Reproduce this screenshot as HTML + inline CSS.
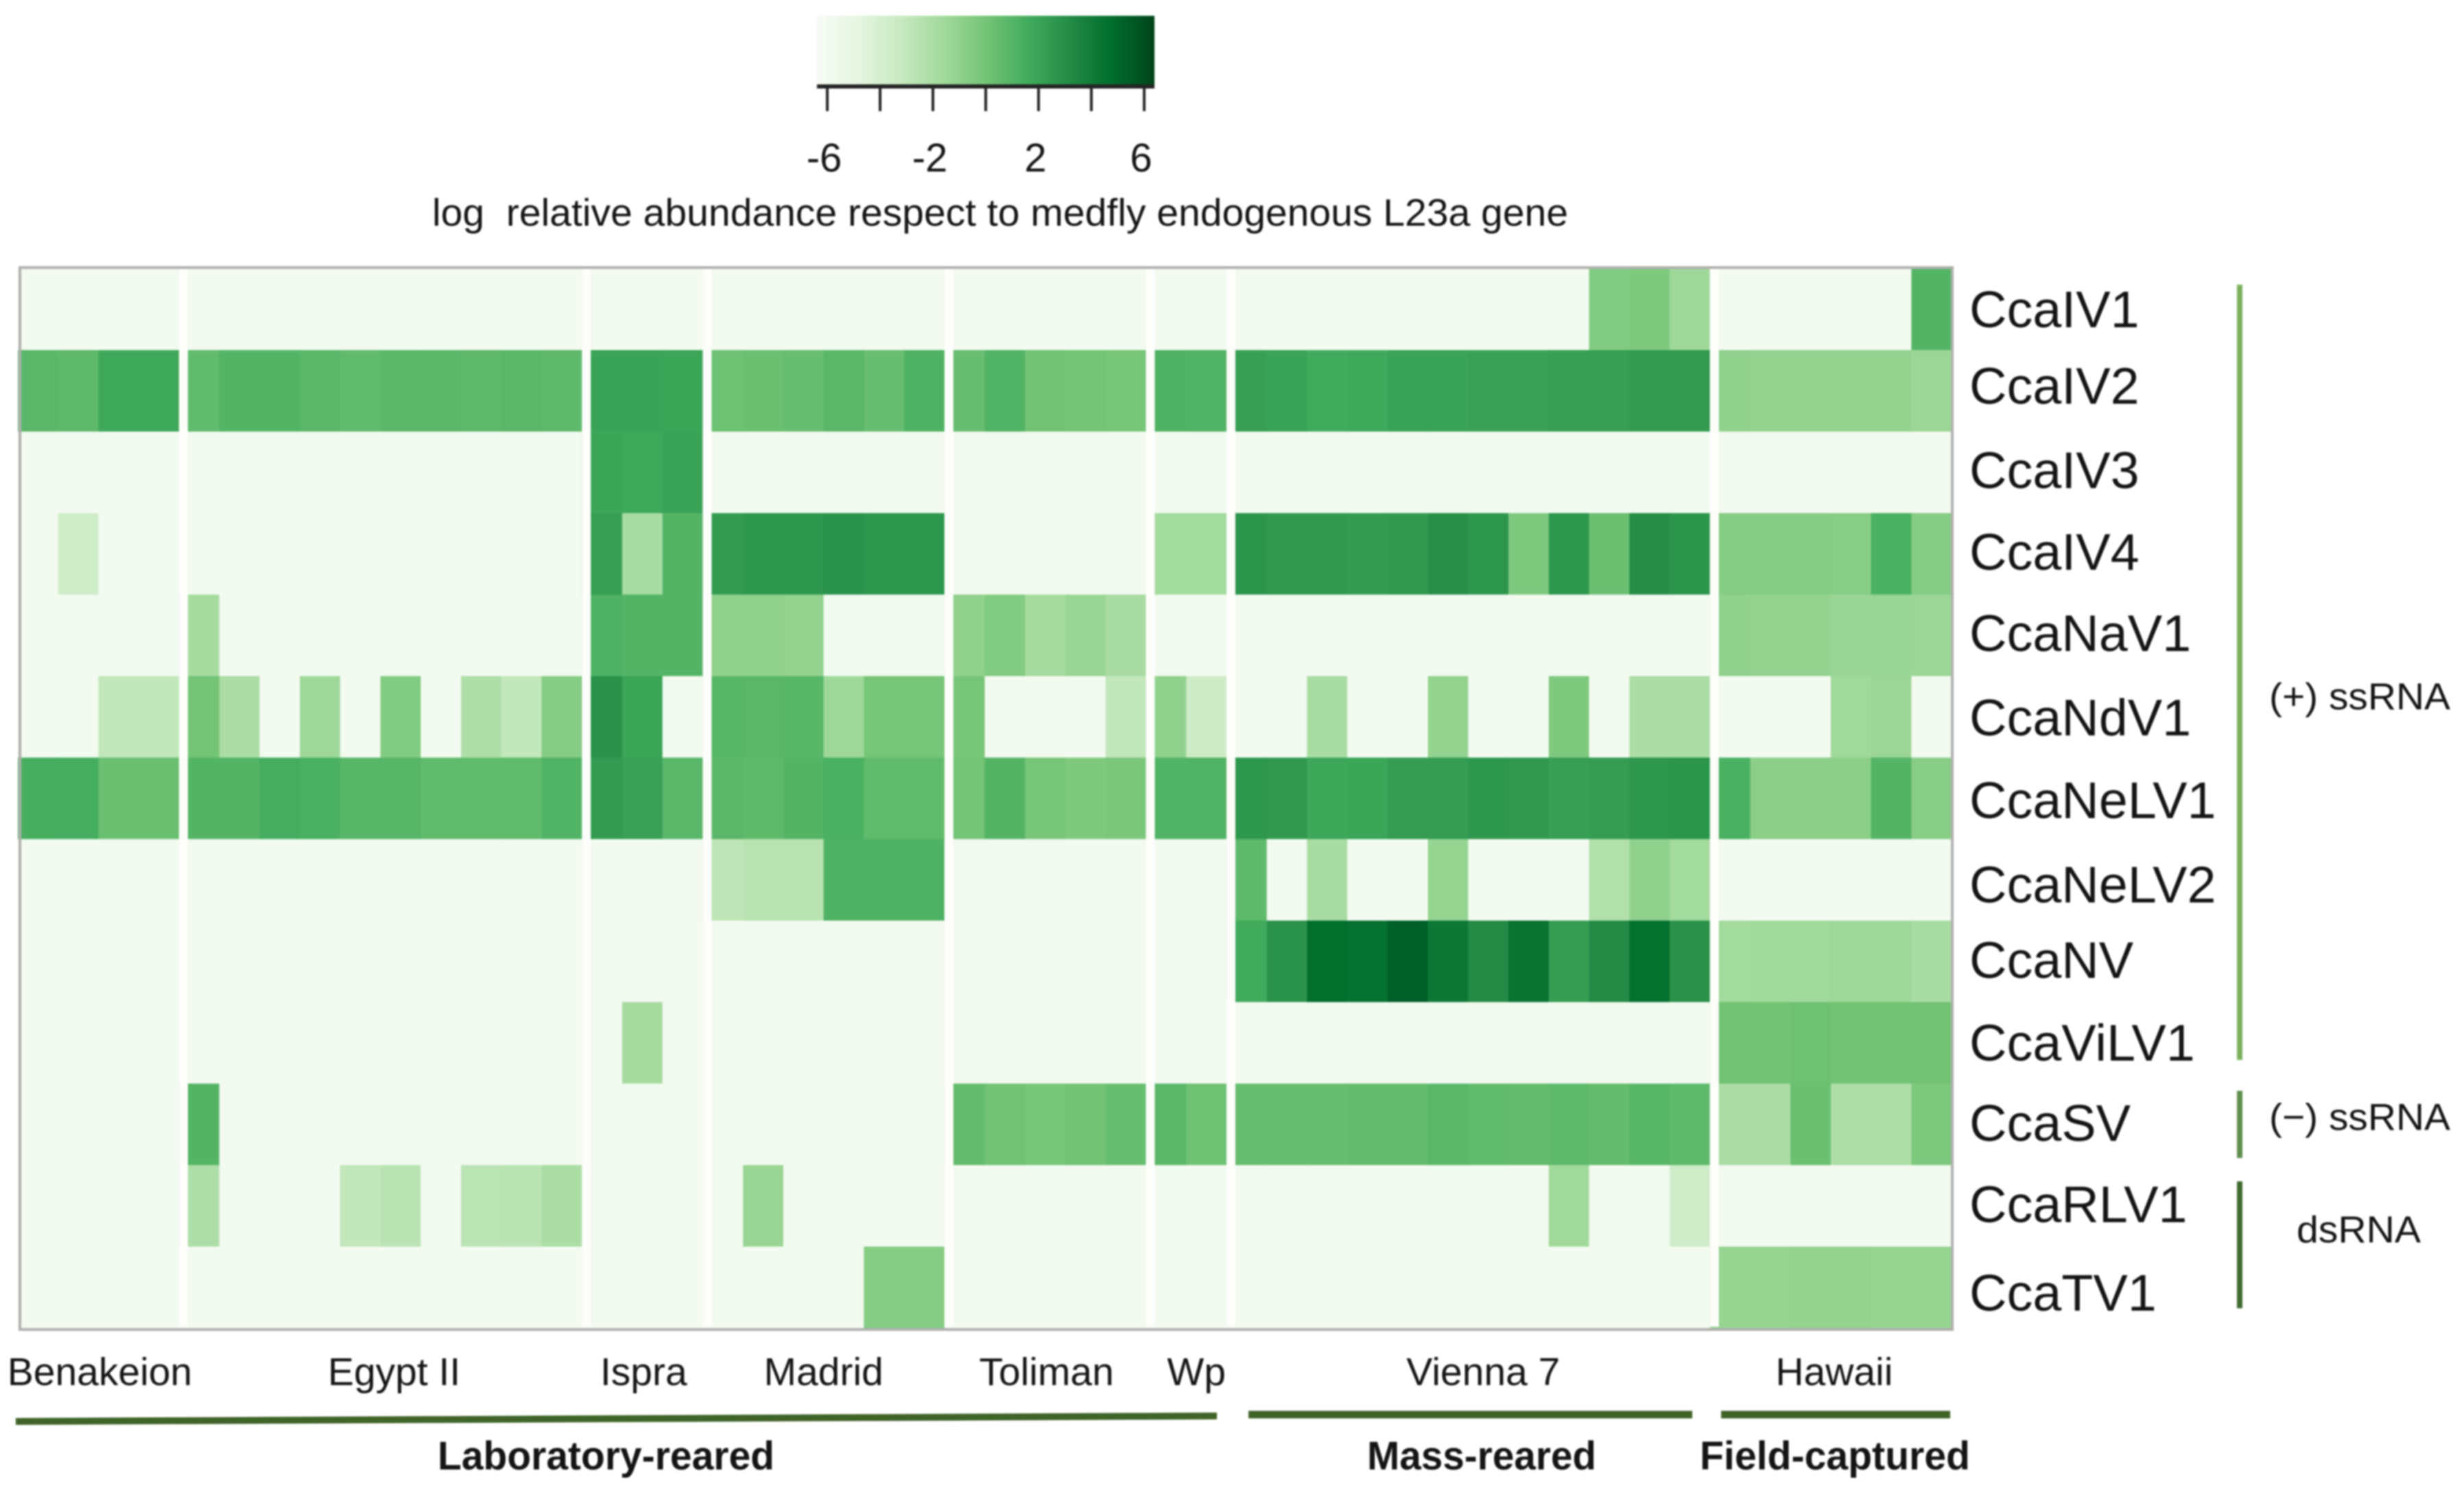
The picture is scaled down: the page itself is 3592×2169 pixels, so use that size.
<!DOCTYPE html>
<html lang="en">
<head>
<meta charset="utf-8">
<title>Virus relative abundance heatmap</title>
<style>
  html, body { margin: 0; padding: 0; background: #ffffff; width: 3592px; height: 2169px; overflow: hidden; }
  svg { display: block; font-family: "Liberation Sans", Arial, sans-serif; }
  text { fill: #141414; }
</style>
</head>
<body>
<svg id="chart" xmlns="http://www.w3.org/2000/svg" width="3592" height="2169" viewBox="0 0 3592 2169">
  <defs>
    <linearGradient id="legend-gradient" x1="0" x2="1" y1="0" y2="0"></linearGradient>
  </defs>
  <rect x="0" y="0" width="3592" height="2169" fill="#ffffff"/>
  <g id="root" style="filter: blur(1.3px)">
    <g id="legend">
      <rect x="1191" y="23" width="492" height="103" fill="url(#legend-gradient)"/>
      <rect x="1191" y="123" width="492" height="6" fill="#242424"/>
      <g id="legend-ticks"></g>
      <text x="630" y="329" font-size="56" textLength="1656" lengthAdjust="spacingAndGlyphs" xml:space="preserve">log  relative abundance respect to medfly endogenous L23a gene</text>
    </g>
    <g id="cells"></g>
    <g id="gaps"></g>
    <rect x="29" y="390" width="2817" height="1548" fill="none" stroke="#b0b0ae" stroke-width="4"/>
    <g id="row-labels"></g>
    <g id="group-labels"></g>

    <rect x="3261" y="415" width="8" height="1130" fill="#7bb05c"/>
    <rect x="3261" y="1590" width="8" height="98" fill="#5f8f4e"/>
    <rect x="3261" y="1722" width="8" height="185" fill="#3f6a30"/>
    <text x="3308" y="1034" font-size="55" textLength="264" lengthAdjust="spacingAndGlyphs">(+) ssRNA</text>
    <text x="3308" y="1647" font-size="55" textLength="264" lengthAdjust="spacingAndGlyphs">(−) ssRNA</text>
    <text x="3348" y="1811" font-size="55" textLength="181" lengthAdjust="spacingAndGlyphs">dsRNA</text>

    <line x1="23" y1="2072" x2="1774" y2="2064" stroke="#3f6428" stroke-width="10"/>
    <line x1="1820" y1="2062" x2="2467" y2="2062" stroke="#3f6428" stroke-width="11"/>
    <line x1="2509" y1="2062" x2="2843" y2="2062" stroke="#3f6428" stroke-width="11"/>
    <text x="638" y="2142" font-size="58" font-weight="700" textLength="491" lengthAdjust="spacingAndGlyphs">Laboratory-reared</text>
    <text x="1993" y="2142" font-size="58" font-weight="700" textLength="334" lengthAdjust="spacingAndGlyphs">Mass-reared</text>
    <text x="2478" y="2142" font-size="58" font-weight="700" textLength="394" lengthAdjust="spacingAndGlyphs">Field-captured</text>
  </g>
</svg>
<script>
// ---- data: categories ----
const virusNames = ["CcaIV1","CcaIV2","CcaIV3","CcaIV4","CcaNaV1","CcaNdV1","CcaNeLV1","CcaNeLV2","CcaNV","CcaViLV1","CcaSV","CcaRLV1","CcaTV1"];
const strainNames = ["Benakeion","Egypt II","Ispra","Madrid","Toliman","Wp","Vienna 7","Hawaii"];
const strainSampleCounts = [4,10,3,6,5,2,12,6];
const legendTickValues = [-6,-4,-2,0,2,4,6];
const legendTickLabels = ["-6","","-2","","2","","6"];

// ---- data: log relative abundance, grouped by strain within each row ----
const valuesCcaIV1 = [-6,-6,-6,-6, -6,-6,-6,-6,-6,-6,-6,-6,-6,-6, -6,-6,-6, -6,-6,-6,-6,-6,-6, -6,-6,-6,-6,-6, -6,-6, -6,-6,-6,-6,-6,-6,-6,-6,-6,-0.5,-0.4,-1.5, -6,-6,-6,-6,-6,1.0];
const valuesCcaIV2 = [0.8,0.7,1.7,1.7, 0.6,1.0,1.0,0.8,0.6,0.8,0.8,0.7,0.8,0.7, 2.0,2.0,1.9, 0.2,0.3,0.4,0.8,0.4,1.2, 0.4,1.1,0.1,0.0,-0.1, 1.2,1.1, 2.2,2.0,1.6,1.7,2.0,2.0,2.1,2.1,2.2,2.2,2.4,2.4, -1.0,-1.1,-1.1,-1.1,-1.1,-1.4];
const valuesCcaIV3 = [-6,-6,-6,-6, -6,-6,-6,-6,-6,-6,-6,-6,-6,-6, 1.9,1.7,2.0, -6,-6,-6,-6,-6,-6, -6,-6,-6,-6,-6, -6,-6, -6,-6,-6,-6,-6,-6,-6,-6,-6,-6,-6,-6, -6,-6,-6,-6,-6,-6];
const valuesCcaIV4 = [-6,-3.6,-6,-6, -6,-6,-6,-6,-6,-6,-6,-6,-6,-6, 2.2,-1.9,1.0, 2.4,2.6,2.6,2.8,2.6,2.6, -6,-6,-6,-6,-6, -1.7,-1.7, 2.7,2.5,2.5,2.4,2.5,3.0,2.6,-0.4,2.6,0.3,3.1,2.7, -0.6,-0.6,-0.6,-0.7,1.3,-0.6];
const valuesCcaNaV1 = [-6,-6,-6,-6, -1.8,-6,-6,-6,-6,-6,-6,-6,-6,-6, 1.2,1.0,1.0, -1.0,-1.0,-1.1,-6,-6,-6, -1.0,-0.5,-1.8,-1.3,-1.9, -6,-6, -6,-6,-6,-6,-6,-6,-6,-6,-6,-6,-6,-6, -1.0,-1.1,-1.1,-1.3,-1.3,-1.4];
const valuesCcaNdV1 = [-6,-6,-3.0,-3.0, 0.0,-2.0,-6,-1.5,-6,-0.5,-6,-2.2,-3.0,-0.6, 2.9,1.9,-6, 0.9,0.8,0.9,-1.5,-0.1,-0.1, -0.1,-6,-6,-6,-3.0, -1.0,-3.5, -6,-6,-1.9,-6,-6,-1.1,-6,-6,-0.4,-6,-2.0,-2.0, -6,-6,-6,-1.6,-1.4,-6];
const valuesCcaNeLV1 = [1.4,1.5,0.3,0.3, 1.0,1.0,1.5,1.3,0.9,0.9,0.6,0.6,0.6,1.1, 2.4,2.1,0.8, 0.8,0.7,1.0,1.3,0.6,0.6, 0.0,1.0,-0.1,-0.4,-0.2, 1.1,1.1, 2.6,2.5,1.8,1.9,2.3,2.3,2.6,2.5,2.2,2.3,2.6,2.7, 1.3,-0.8,-0.8,-0.8,1.0,-0.7];
const valuesCcaNeLV2 = [-6,-6,-6,-6, -6,-6,-6,-6,-6,-6,-6,-6,-6,-6, -6,-6,-6, -2.8,-2.6,-2.6,1.2,1.2,1.2, -6,-6,-6,-6,-6, -6,-6, 0.7,-6,-1.9,-6,-6,-1.2,-6,-6,-6,-2.3,-1.0,-1.7, -6,-6,-6,-6,-6,-6];
const valuesCcaNV = [-6,-6,-6,-6, -6,-6,-6,-6,-6,-6,-6,-6,-6,-6, -6,-6,-6, -6,-6,-6,-6,-6,-6, -6,-6,-6,-6,-6, -6,-6, 1.6,2.8,4.7,4.5,5.3,4.2,3.2,4.4,2.3,3.2,4.6,2.9, -1.7,-1.6,-1.6,-1.5,-1.5,-1.9];
const valuesCcaViLV1 = [-6,-6,-6,-6, -6,-6,-6,-6,-6,-6,-6,-6,-6,-6, -6,-1.8,-6, -6,-6,-6,-6,-6,-6, -6,-6,-6,-6,-6, -6,-6, -6,-6,-6,-6,-6,-6,-6,-6,-6,-6,-6,-6, 0.1,0.1,0.2,0.1,0.1,0.1];
const valuesCcaSV = [-6,-6,-6,-6, 1.0,-6,-6,-6,-6,-6,-6,-6,-6,-6, -6,-6,-6, -6,-6,-6,-6,-6,-6, 0.5,0.1,-0.1,0.1,0.4, 0.8,0.2, 0.4,0.4,0.4,0.5,0.5,0.8,0.6,0.5,0.7,0.5,0.9,0.7, -2.0,-2.0,0.3,-2.1,-2.1,-0.3];
const valuesCcaRLV1 = [-6,-6,-6,-6, -2.1,-6,-6,-6,-3.0,-2.6,-6,-2.7,-2.6,-2.0, -6,-6,-6, -6,-1.3,-6,-6,-6,-6, -6,-6,-6,-6,-6, -6,-6, -6,-6,-6,-6,-6,-6,-6,-6,-1.6,-6,-6,-3.6, -6,-6,-6,-6,-6,-6];
const valuesCcaTV1 = [-6,-6,-6,-6, -6,-6,-6,-6,-6,-6,-6,-6,-6,-6, -6,-6,-6, -6,-6,-6,-6,-0.6,-0.6, -6,-6,-6,-6,-6, -6,-6, -6,-6,-6,-6,-6,-6,-6,-6,-6,-6,-6,-6, -1.2,-1.2,-1.1,-1.1,-1.2,-1.2];
const heatmapRows = [valuesCcaIV1,valuesCcaIV2,valuesCcaIV3,valuesCcaIV4,valuesCcaNaV1,valuesCcaNdV1,valuesCcaNeLV1,valuesCcaNeLV2,valuesCcaNV,valuesCcaViLV1,valuesCcaSV,valuesCcaRLV1,valuesCcaTV1];

// ---- scales ----
const SVG_NS = "http://www.w3.org/2000/svg";
const palette = ["#F7FCF5","#E5F5E0","#C7E9C0","#A1D99B","#74C476","#41AB5D","#238B45","#006D2C","#00441B"];
const colorMin = -6.39;
const colorMax = 6.39;
function xCell(i) { return 26 + 58.73 * i; }
function yCell(r) { return 391.5 + 118.8 * r; }
function xLegend(v) { return 1437 + 38.5 * v; }
function hexToRgb(h) { return [1,3,5].map(function (p) { return parseInt(h.substr(p, 2), 16); }); }
function colorFor(v) {
  const t = Math.max(0, Math.min(1, (v - colorMin) / (colorMax - colorMin))) * (palette.length - 1);
  const k = Math.min(palette.length - 2, Math.floor(t));
  const a = hexToRgb(palette[k]);
  const b = hexToRgb(palette[k + 1]);
  const f = t - k;
  return "rgb(" + a.map(function (c, n) { return Math.round(c + (b[n] - c) * f); }).join(",") + ")";
}
function make(tag, attrs, parent, content) {
  const el = document.createElementNS(SVG_NS, tag);
  Object.keys(attrs).forEach(function (k) { el.setAttribute(k, attrs[k]); });
  if (content !== undefined) el.textContent = content;
  parent.appendChild(el);
  return el;
}

// ---- legend ----
const gradient = document.getElementById("legend-gradient");
palette.forEach(function (c, i) {
  make("stop", { offset: i / (palette.length - 1), "stop-color": c }, gradient);
});
const tickLayer = document.getElementById("legend-ticks");
legendTickValues.forEach(function (v, i) {
  const tick = make("line", { x1: xLegend(v), x2: xLegend(v), y1: 126, y2: 162, stroke: "#242424", "stroke-width": 4 }, tickLayer);
  
  
  if (legendTickLabels[i]) {
    const label = make("text", { x: xLegend(v) - 4.5, y: 250, "font-size": 58, "text-anchor": "middle" }, tickLayer, legendTickLabels[i]);
    
    
  }
});

// ---- heatmap cells ----
const cellLayer = document.getElementById("cells");
heatmapRows.forEach(function (row, r) {
  row.forEach(function (value, c) {
    const cell = make("rect", {
      x: xCell(c), y: yCell(r),
      width: xCell(c + 1) - xCell(c) + 0.5,
      height: yCell(r + 1) - yCell(r) + 0.5,
      fill: colorFor(value)
    }, cellLayer);
    
    
  });
});

// ---- strain separators and labels ----
const gapLayer = document.getElementById("gaps");
const groupLabelLayer = document.getElementById("group-labels");
const labelCenterNudge = [2, 20, 2, 0, 2, 15, 22, 5];
let cumulative = 0;
strainSampleCounts.forEach(function (count, g) {
  const start = cumulative;
  const end = cumulative + count;
  if (g > 0) {
    const gap = make("rect", { x: xCell(start), y: 392, width: 13, height: yCell(virusNames.length) - 394, fill: "#fdfdfb" }, gapLayer);
    
    
  }
  const center = (xCell(start) + xCell(end)) / 2 + labelCenterNudge[g];
  const label = make("text", { x: center, y: 2019, "font-size": 57, "text-anchor": "middle" }, groupLabelLayer, strainNames[g]);
  
  
  cumulative = end;
});

// ---- virus labels ----
const rowLabelLayer = document.getElementById("row-labels");
const rowLabelNudge = [26, 19, 23, 23, 23, 27, 29, 33, 24, 26, 24, 24, 34];
virusNames.forEach(function (name, r) {
  const label = make("text", { x: 2871, y: (yCell(r) + yCell(r + 1)) / 2 + rowLabelNudge[r], "font-size": 75.5 }, rowLabelLayer, name);
  
  
});
</script>
</body>
</html>
